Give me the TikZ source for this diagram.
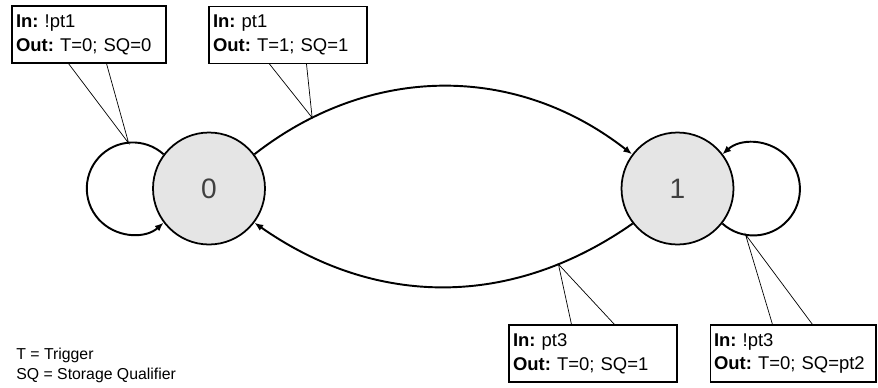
\documentclass[tikz,border=0pt]{standalone}
\usepackage{fontspec}
\setmainfont{Liberation Sans}
\usepackage{tikz}
\usetikzlibrary{arrows.meta,positioning,calc}
\frenchspacing

\begin{document}
\begin{tikzpicture}[x=0.02cm, y=0.02cm,
  state/.style={draw, line width=1pt, circle, fill=black!10,
                minimum size=2.24cm, inner sep=0pt,
                font=\fontsize{16}{19}\selectfont, text=black!75},
  callbox/.style={draw, line width=0.6pt, fill=white, inner sep=0.08cm,
                  minimum height=1.14cm, align=left,
                  font=\fontsize{10.5}{13.6}\selectfont},
  trans/.style={-{Latex[length=5pt,width=4pt]}, line width=1.1pt},
  callout/.style={line width=0.4pt},
  legend/.style={align=left, inner sep=0pt, font=\fontsize{9}{11.3}\selectfont}
]
  \useasboundingbox (0,0) rectangle (878,387);

  % states
  \node[state] (s0) at (209,198.5) {0};
  \node[state] (s1) at (677.5,198.5) {1};
  \coordinate (l0) at (133.5,198);
  \coordinate (l1) at (752.7,198.6);

  % transitions
  \draw[trans] (s0.143) arc[start angle=48, end angle=312, radius=46];
  \draw[trans] (s1.-38) arc[start angle=-132, end angle=132, radius=46.5];
  \draw[trans] (s0.37) to[out=38, in=142] coordinate[pos=0.16] (t2) (s1.143);
  \draw[trans] (s1.218) to[out=215, in=-35] coordinate[pos=0.2] (t3) (s0.-37);
  \coordinate (t1) at ([shift={(96:46)}]l0);
  \coordinate (t4) at ([shift={(-99:46.5)}]l1);

  % labels
  \node[callbox, text width=2.92cm] (b1) at (89,352.5)
    {\textbf{In:} !pt1\\\textbf{Out:} T=0; SQ=0};
  \node[callbox, text width=3.00cm] (b2) at (288,352)
    {\textbf{In:} pt1\\\textbf{Out:} T=1; SQ=1};
  \node[callbox, text width=3.20cm] (b3) at (593,33.5)
    {\textbf{In:} pt3\\\textbf{Out:} T=0; SQ=1};
  \node[callbox, text width=3.16cm] (b4) at (793,33.5)
    {\textbf{In:} !pt3\\\textbf{Out:} T=0; SQ=pt2};
  \draw[callout] ($(b1.south west)+(57,0)$) -- (t1) -- ($(b1.south west)+(95,0)$);
  \draw[callout] ($(b2.south west)+(61,0)$) -- (t2) -- ($(b2.south west)+(98,0)$);
  \draw[callout] ($(b3.north west)+(63,0)$) -- (t3) -- ($(b3.north west)+(106,0)$);
  \draw[callout] ($(b4.north west)+(63,0)$) -- (t4) -- ($(b4.north west)+(103,0)$);

  % legend
  \node[legend, anchor=west] (leg) at (16,22)
    {T = Trigger\\SQ = Storage Qualifier};
\end{tikzpicture}
\end{document}
